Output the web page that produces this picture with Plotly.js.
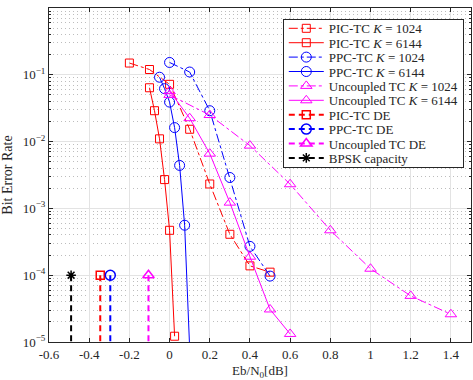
<!DOCTYPE html>
<html>
<head>
<meta charset="utf-8">
<script src="https://cdn.plot.ly/plotly-3.0.1.min.js"></script>
<style>
  html, body { margin: 0; padding: 0; background: #fff; }
  #berChart { width: 473px; height: 380px; }
</style>
</head>
<body>
<div id="berChart"></div>
<script>
// Simülasyon sonuçları (Eb/N0 [dB] ve BER)
const ebPicK1024 = [-0.2, -0.1, 0, 0.1, 0.2, 0.3, 0.4, 0.5];
const berPicK1024 = [0.15, 0.12, 0.072, 0.0153, 0.00232, 4.1e-4, 1.38e-4, 1.11e-4];

const ebPicK6144 = [-0.1, -0.075, -0.05, -0.025, 0, 0.025];
const berPicK6144 = [0.064, 0.029, 0.011, 0.0027, 4.7e-4, 1.22e-5];

const ebPpcK1024 = [0, 0.1, 0.2, 0.3, 0.4, 0.5];
const berPpcK1024 = [0.153, 0.11, 0.029, 0.0029, 2.7e-4, 9.7e-5];

const ebPpcK6144 = [-0.05, -0.025, 0, 0.025, 0.05, 0.075, 0.1];
const berPpcK6144 = [0.092, 0.062, 0.039, 0.0162, 0.0044, 5.6e-4, 8e-6];

const ebUncK1024 = [0, 0.2, 0.4, 0.6, 0.8, 1.0, 1.2, 1.4];
const berUncK1024 = [0.05, 0.025, 0.0087, 0.0023, 4.7e-4, 1.25e-4, 4.9e-5, 2.6e-5];

const ebUncK6144 = [0, 0.1, 0.2, 0.3, 0.4, 0.5, 0.6];
const berUncK6144 = [0.057, 0.0224, 0.0066, 0.00122, 1.89e-4, 3.07e-5, 1.32e-5];

// DE eşikleri ve BPSK kapasitesi (dikey çizgi: 1e-4'ten alt kenara)
const dePic = -0.345;
const dePpc = -0.295;
const deUnc = -0.105;
const bpskCapacity = -0.49;
const thresholdBer = [1e-4, 1e-5];

// Eksen etiketleri
const xTicks = [-0.6, -0.4, -0.2, 0, 0.2, 0.4, 0.6, 0.8, 1, 1.2, 1.4];
const xTickText = ['-0.6', '-0.4', '-0.2', '0', '0.2', '0.4', '0.6', '0.8', '1', '1.2', '1.4'];
const yTicks = [1e-5, 1e-4, 1e-3, 1e-2, 1e-1, 1];
const yTickText = ['10<sup>\u22125</sup>', '10<sup>\u22124</sup>', '10<sup>\u22123</sup>',
                   '10<sup>\u22122</sup>', '10<sup>\u22121</sup>', '10<sup>0</sup>'];

const RED = '#ff0000';
const BLUE = '#0000ff';
const MAGENTA = '#ff00ff';
const BLACK = '#000000';

function curve(name, x, y, color, dash, symbol, size) {
    return {
        x: x, y: y, name: name,
        mode: 'lines+markers', type: 'scatter',
        line: { color: color, width: 1, dash: dash },
        marker: { symbol: symbol, size: size, color: color, line: { width: 1 } }
    };
}

// Eşik çizgisi: üstte işaretçi, altta görünmez nokta
function threshold(name, xv, color, symbol, size) {
    return {
        x: [xv, xv], y: thresholdBer, name: name,
        mode: 'lines+markers', type: 'scatter',
        line: { color: color, width: 2, dash: '6px,4px' },
        marker: { symbol: symbol, size: size, color: [color, 'rgba(0,0,0,0)'], line: { width: 1.5 } }
    };
}

const traces = [
    curve('PIC-TC <i>K</i> = 1024', ebPicK1024, berPicK1024, RED, 'dashdot', 'square-open', 8),
    curve('PIC-TC <i>K</i> = 6144', ebPicK6144, berPicK6144, RED, 'solid', 'square-open', 8),
    curve('PPC-TC <i>K</i> = 1024', ebPpcK1024, berPpcK1024, BLUE, 'dashdot', 'circle-open', 10),
    curve('PPC-TC <i>K</i> = 6144', ebPpcK6144, berPpcK6144, BLUE, 'solid', 'circle-open', 10),
    curve('Uncoupled TC <i>K</i> = 1024', ebUncK1024, berUncK1024, MAGENTA, 'dashdot', 'triangle-up-open', 10),
    curve('Uncoupled TC <i>K</i> = 6144', ebUncK6144, berUncK6144, MAGENTA, 'solid', 'triangle-up-open', 10),
    threshold('PIC-TC DE', dePic, RED, 'square-open', 8),
    threshold('PPC-TC DE', dePpc, BLUE, 'circle-open', 10),
    threshold('Uncoupled TC DE', deUnc, MAGENTA, 'triangle-up-open', 10),
    threshold('BPSK capacity', bpskCapacity, BLACK, 'asterisk-open', 8)
];

const axisColor = '#262626';
const serif = 'Liberation Serif, Times New Roman, serif';

const layout = {
    width: 473,
    height: 380,
    margin: { l: 49, r: 2, t: 8, b: 38 },
    paper_bgcolor: '#ffffff',
    plot_bgcolor: '#ffffff',
    font: { family: serif, size: 13, color: axisColor },
    showlegend: true,
    legend: {
        x: 0.554, y: 0.966, xanchor: 'left', yanchor: 'top',
        bgcolor: '#ffffff', bordercolor: axisColor, borderwidth: 1,
        itemwidth: 35,
        font: { family: serif, size: 13, color: axisColor }
    },
    xaxis: {
        range: [-0.6, 1.5],
        tickmode: 'array', tickvals: xTicks, ticktext: xTickText,
        ticks: 'inside', ticklen: 4, tickcolor: axisColor,
        showline: true, linecolor: axisColor, linewidth: 1, mirror: 'ticks',
        showgrid: true, gridcolor: '#e3e3e3', zeroline: false,
        title: { text: 'Eb/N<sub>0</sub>[dB]', font: { family: serif, size: 13 }, standoff: 6 }
    },
    yaxis: {
        type: 'log',
        range: [-5, 0],
        tickmode: 'array', tickvals: yTicks, ticktext: yTickText,
        ticks: 'inside', ticklen: 4, tickcolor: axisColor,
        showline: true, linecolor: axisColor, linewidth: 1, mirror: 'ticks',
        showgrid: true, gridcolor: '#e3e3e3', zeroline: false,
        minor: {
            dtick: 'D1', ticks: 'inside', ticklen: 2, tickcolor: axisColor,
            showgrid: true, gridcolor: '#bdbdbd', griddash: '1px,3px'
        },
        title: { text: 'Bit Error Rate', font: { family: serif, size: 14 }, standoff: 6 }
    }
};

// Lejant satırlarını sıkılaştır (Plotly en az 19px satır yüksekliği kullanıyor)
function tightenLegend() {
    const step = 14.4;
    const items = document.querySelectorAll('#berChart .legend .traces');
    if (!items.length) return;
    const first = /translate\(\s*([-\d.]+)[ ,]+([-\d.]+)/.exec(items[0].getAttribute('transform'));
    const x0 = parseFloat(first[1]);
    const y0 = parseFloat(first[2]) - 7;
    items.forEach(function(el, i) {
        el.setAttribute('transform', 'translate(' + x0 + ',' + (y0 + i * step) + ')');
    });
    const bg = document.querySelector('#berChart .legend rect.bg');
    if (bg) bg.setAttribute('height', 148);
}

Plotly.newPlot('berChart', traces, layout, { staticPlot: true }).then(tightenLegend);
</script>
</body>
</html>
